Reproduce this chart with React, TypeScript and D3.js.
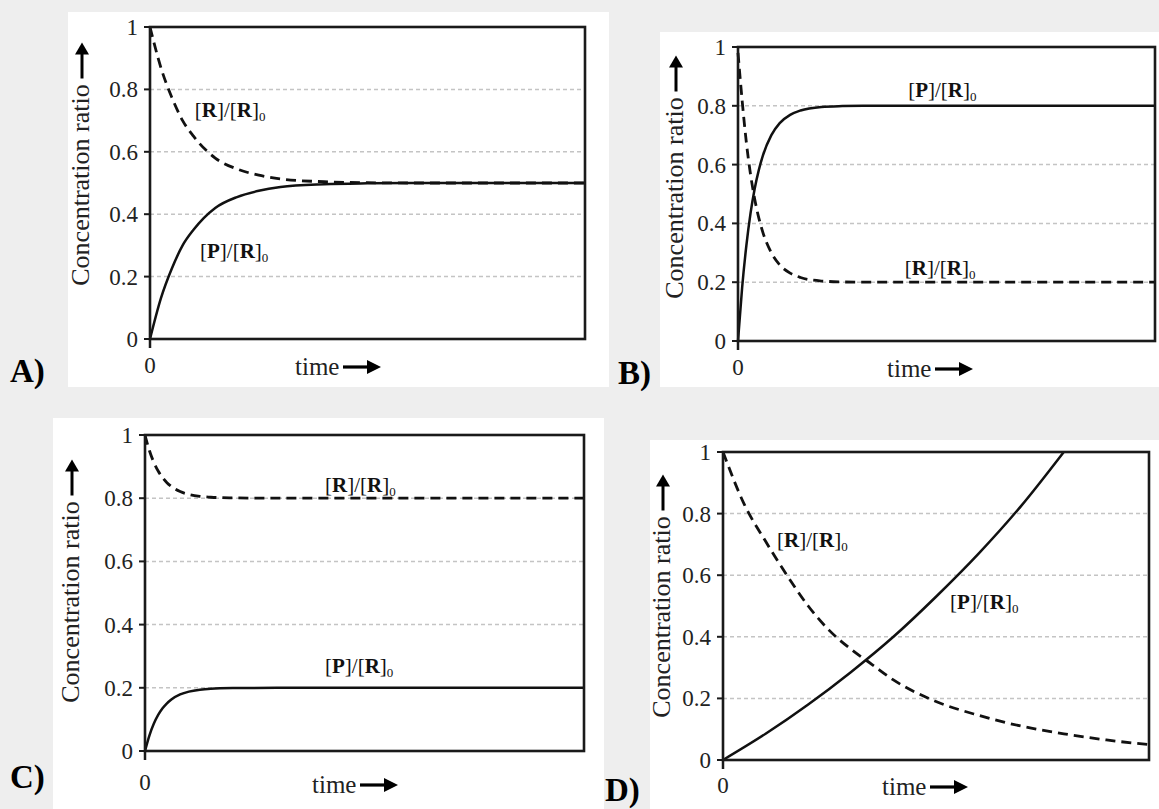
import React from 'react';
import * as d3 from 'd3';

// ---------- data ----------
const yTicks = [0, 0.2, 0.4, 0.6, 0.8, 1];
const yTickLabels = ['0', '0.2', '0.4', '0.6', '0.8', '1'];
const gridTicks = [0.2, 0.4, 0.6, 0.8];
const xTickLabels = ['0'];
const panelLetters = ['A)', 'B)', 'C)', 'D)'];
const axisTitle = 'Concentration ratio';
const timeTitle = 'time';

const timeA = [0, 0.25, 0.5, 0.75, 1, 1.5, 2, 2.5, 3, 4, 5, 6, 8, 10];
const rA = [1.0, 0.87, 0.775, 0.7, 0.65, 0.58, 0.545, 0.525, 0.513, 0.504, 0.501, 0.5, 0.5, 0.5];
const pA = [0, 0.13, 0.225, 0.3, 0.35, 0.42, 0.455, 0.475, 0.487, 0.496, 0.499, 0.5, 0.5, 0.5];

const timeB = [0, 0.1, 0.2, 0.3, 0.4, 0.5, 0.6, 0.8, 1, 1.25, 1.5, 2, 2.5, 3, 4, 6, 8, 10];
const rB = [0.98, 0.817, 0.676, 0.567, 0.483, 0.418, 0.368, 0.3, 0.259, 0.231, 0.216, 0.204, 0.201, 0.2, 0.2, 0.2, 0.2, 0.2];
const pB = [0, 0.183, 0.324, 0.434, 0.518, 0.582, 0.632, 0.7, 0.741, 0.769, 0.784, 0.796, 0.799, 0.8, 0.8, 0.8, 0.8, 0.8];

const timeC = [0, 0.1, 0.2, 0.3, 0.4, 0.5, 0.6, 0.8, 1, 1.25, 1.5, 2, 3, 5, 10];
const rC = [1.0, 0.951, 0.914, 0.886, 0.865, 0.849, 0.837, 0.821, 0.812, 0.806, 0.803, 0.801, 0.8, 0.8, 0.8];
const pC = [0, 0.049, 0.086, 0.114, 0.135, 0.151, 0.163, 0.179, 0.188, 0.194, 0.197, 0.199, 0.2, 0.2, 0.2];

const timeDR = [0, 0.5, 1, 1.5, 2, 2.5, 3, 3.5, 4, 5, 6, 7, 8, 9, 10];
const rD = [1.0, 0.83, 0.71, 0.6, 0.5, 0.42, 0.36, 0.31, 0.26, 0.19, 0.145, 0.11, 0.085, 0.065, 0.05];
const timeDP = [0, 1, 2, 3, 4, 5, 6, 7, 8];
const pD = [0, 0.085, 0.18, 0.285, 0.4, 0.53, 0.67, 0.825, 1.0];

// ---------- layout ----------
type Panel = {
  letter: string;
  bg: [number, number, number, number];
  box: { l: number; t: number; r: number; b: number };
  letterPos: [number, number];
  titleX: number;
  titleShift: number;
  timeX: number;
  timeDy: number;
  zeroDy: number;
  rT: number[]; rV: number[]; pT: number[]; pV: number[];
  rLab: [number, number]; pLab: [number, number];
};

const panels: Panel[] = [
  {
    letter: panelLetters[0], bg: [68, 12, 609, 387], box: { l: 150, t: 27, r: 585, b: 339 },
    letterPos: [10, 382], titleX: 89, titleShift: 2, timeX: 295, timeDy: 36, zeroDy: 34,
    rT: timeA, rV: rA, pT: timeA, pV: pA, rLab: [1.03, 0.71], pLab: [1.15, 0.26],
  },
  {
    letter: panelLetters[1], bg: [660, 32, 1159, 387], box: { l: 738, t: 47, r: 1155, b: 341 },
    letterPos: [618, 384], titleX: 683, titleShift: 4, timeX: 887, timeDy: 36, zeroDy: 34,
    rT: timeB, rV: rB, pT: timeB, pV: pB, rLab: [4.0, 0.224], pLab: [4.08, 0.83],
  },
  {
    letter: panelLetters[2], bg: [53, 418, 604, 809], box: { l: 145, t: 435, r: 584, b: 751 },
    letterPos: [10, 788], titleX: 79, titleShift: 9, timeX: 312, timeDy: 42, zeroDy: 39,
    rT: timeC, rV: rC, pT: timeC, pV: pC, rLab: [4.1, 0.82], pLab: [4.1, 0.247],
  },
  {
    letter: panelLetters[3], bg: [650, 440, 1159, 809], box: { l: 723, t: 452, r: 1149, b: 760 },
    letterPos: [605, 801], titleX: 670, titleShift: 11, timeX: 882, timeDy: 35, zeroDy: 33,
    rT: timeDR, rV: rD, pT: timeDP, pV: pD, rLab: [1.27, 0.69], pLab: [5.33, 0.49],
  },
];

const SERIF = "'Liberation Serif', 'Times New Roman', serif";

function RatioLabel({ x, y, num }: { x: number; y: number; num: string }) {
  return (
    <text x={x} y={y} fontFamily={SERIF} fontSize={21} fill="#111">
      <tspan>[</tspan>
      <tspan fontWeight="bold">{num}</tspan>
      <tspan>]/[</tspan>
      <tspan fontWeight="bold">R</tspan>
      <tspan>]</tspan>
      <tspan fontSize={13} dy={4}>0</tspan>
    </text>
  );
}

function PanelView({ p }: { p: Panel }) {
  const { box } = p;
  const x = d3.scaleLinear().domain([0, 10]).range([box.l, box.r]);
  const y = d3.scaleLinear().domain([0, 1]).range([box.b, box.t]);
  const line = d3
    .line<[number, number]>()
    .x((d) => x(d[0]))
    .y((d) => y(d[1]))
    .curve(d3.curveMonotoneX);
  const rPts = p.rT.map((t, i) => [t, p.rV[i]] as [number, number]);
  const pPts = p.pT.map((t, i) => [t, p.pV[i]] as [number, number]);
  const midY = (box.t + box.b) / 2 + p.titleShift;
  const titleLen = 205;
  const arrowBottom = midY - titleLen / 2 - 4;
  const ax = p.titleX - 7;
  const timeArrowY = box.b + p.timeDy - 8;
  const tx0 = p.timeX + 48;
  return (
    <g>
      <rect x={p.bg[0]} y={p.bg[1]} width={p.bg[2] - p.bg[0]} height={p.bg[3] - p.bg[1]} fill="#fff" />
      {gridTicks.map((v) => (
        <line key={v} x1={box.l} x2={box.r} y1={y(v)} y2={y(v)} stroke="#c4c4c4" strokeWidth={1.5} strokeDasharray="4 3" />
      ))}
      <path d={line(rPts) || ''} fill="none" stroke="#111" strokeWidth={2.8} strokeDasharray="10 6" />
      <path d={line(pPts) || ''} fill="none" stroke="#111" strokeWidth={2.5} />
      <rect x={box.l} y={box.t} width={box.r - box.l} height={box.b - box.t} fill="none" stroke="#1a1a1a" strokeWidth={2.6} />
      {yTicks.map((v, i) => (
        <g key={v}>
          <line x1={box.l - 6} x2={box.l} y1={y(v)} y2={y(v)} stroke="#1a1a1a" strokeWidth={2} />
          <text x={box.l - 12} y={y(v)} dy="0.35em" textAnchor="end" fontFamily={SERIF} fontSize={23} fill="#222">
            {yTickLabels[i]}
          </text>
        </g>
      ))}
      <line x1={x(0)} x2={x(0)} y1={box.b} y2={box.b + 9} stroke="#1a1a1a" strokeWidth={2.5} />
      <text x={x(0)} y={box.b + p.zeroDy} textAnchor="middle" fontFamily={SERIF} fontSize={23} fill="#222">
        {xTickLabels[0]}
      </text>
      <text
        transform={`translate(${p.titleX},${midY}) rotate(-90)`}
        textAnchor="middle"
        fontFamily={SERIF}
        fontSize={26}
        fill="#222"
      >
        {axisTitle}
      </text>
      <line x1={ax} x2={ax} y1={arrowBottom} y2={arrowBottom - 28} stroke="#000" strokeWidth={3} />
      <path d={`M${ax - 7},${arrowBottom - 24} L${ax},${arrowBottom - 36} L${ax + 7},${arrowBottom - 24} Z`} fill="#000" />
      <text x={p.timeX} y={box.b + p.timeDy} fontFamily={SERIF} fontSize={25} fill="#222">
        {timeTitle}
      </text>
      <line x1={tx0} x2={tx0 + 28} y1={timeArrowY} y2={timeArrowY} stroke="#000" strokeWidth={3.2} />
      <path d={`M${tx0 + 24},${timeArrowY - 7} L${tx0 + 38},${timeArrowY} L${tx0 + 24},${timeArrowY + 7} Z`} fill="#000" />
      <RatioLabel x={x(p.rLab[0])} y={y(p.rLab[1])} num="R" />
      <RatioLabel x={x(p.pLab[0])} y={y(p.pLab[1])} num="P" />
      <text x={p.letterPos[0]} y={p.letterPos[1]} fontFamily={SERIF} fontSize={33} fontWeight="bold" fill="#000">
        {p.letter}
      </text>
    </g>
  );
}

export default function App() {
  return (
    <svg
      width={1159}
      height={809}
      style={{ position: 'absolute', left: 0, top: 0, display: 'block' }}
    >
      <rect x={0} y={0} width={1159} height={809} fill="#eeeeee" />
      {panels.map((p) => (
        <PanelView key={p.letter} p={p} />
      ))}
    </svg>
  );
}
